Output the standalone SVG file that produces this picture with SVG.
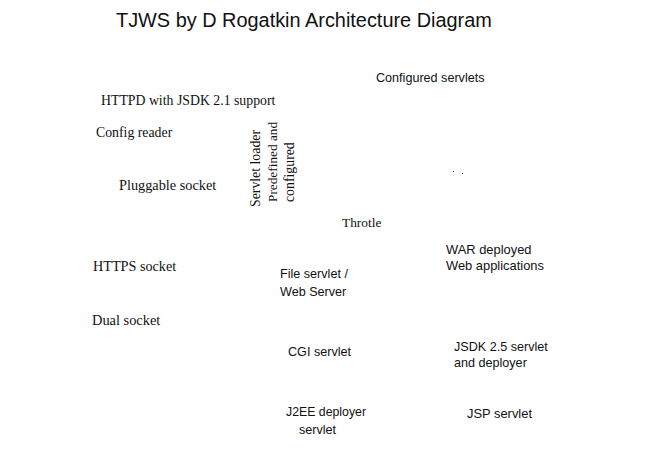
<svg xmlns="http://www.w3.org/2000/svg" width="652" height="468" viewBox="0 0 652 468">
<style>
.t{font-family:"Liberation Sans",Arial,sans-serif;font-size:19.9px;fill:#111}
.s{font-family:"Liberation Sans",Arial,sans-serif;font-size:12.6px;fill:#111}
.r{font-family:"Liberation Serif","Times New Roman",serif;font-size:13.8px;fill:#111}
</style>
<rect width="652" height="468" fill="#fff"/>
<text class="t" x="116" y="27">TJWS by D Rogatkin Architecture Diagram</text>
<g id="connectors"/>
<g id="httpd"><text class="r" x="101" y="105">HTTPD with JSDK 2.1 support</text></g>
<g id="config-reader"><text class="r" x="96" y="137">Config reader</text></g>
<g id="pluggable-socket"><text class="r" x="119" y="190" style="font-size:14.3px">Pluggable socket</text></g>
<g id="servlet-loader">
<text class="r" transform="translate(260,207) rotate(-90)">Servlet loader</text>
<text class="r" transform="translate(277,202) rotate(-90)" style="font-size:13.3px">Predefined and</text>
<text class="r" transform="translate(294,202) rotate(-90)">configured</text>
</g>
<g id="configured-servlets"><text class="s" x="376" y="82">Configured servlets</text></g>
<g id="dots"><rect x="453" y="171" width="1" height="1" fill="#446"/><rect x="462" y="173" width="1" height="1" fill="#443"/></g>
<g id="throtle"><text class="r" x="342" y="227" style="font-size:13.4px">Throtle</text></g>
<g id="https-socket"><text class="r" x="93" y="271" style="font-size:14.2px">HTTPS socket</text></g>
<g id="file-servlet"><text class="s" x="280" y="278">File servlet /</text><text class="s" x="280" y="296">Web Server</text></g>
<g id="war"><text class="s" x="446" y="254" style="font-size:12.9px">WAR deployed</text><text class="s" x="446" y="270" style="font-size:12.9px">Web applications</text></g>
<g id="dual-socket"><text class="r" x="92" y="325" style="font-size:14.4px">Dual socket</text></g>
<g id="cgi"><text class="s" x="288" y="356">CGI servlet</text></g>
<g id="jsdk25"><text class="s" x="454" y="351">JSDK 2.5 servlet</text><text class="s" x="454" y="367">and deployer</text></g>
<g id="j2ee"><text class="s" x="286" y="416" style="font-size:12.3px">J2EE deployer</text><text class="s" x="299" y="434">servlet</text></g>
<g id="jsp"><text class="s" x="467" y="418" style="font-size:12.9px">JSP servlet</text></g>
</svg>
